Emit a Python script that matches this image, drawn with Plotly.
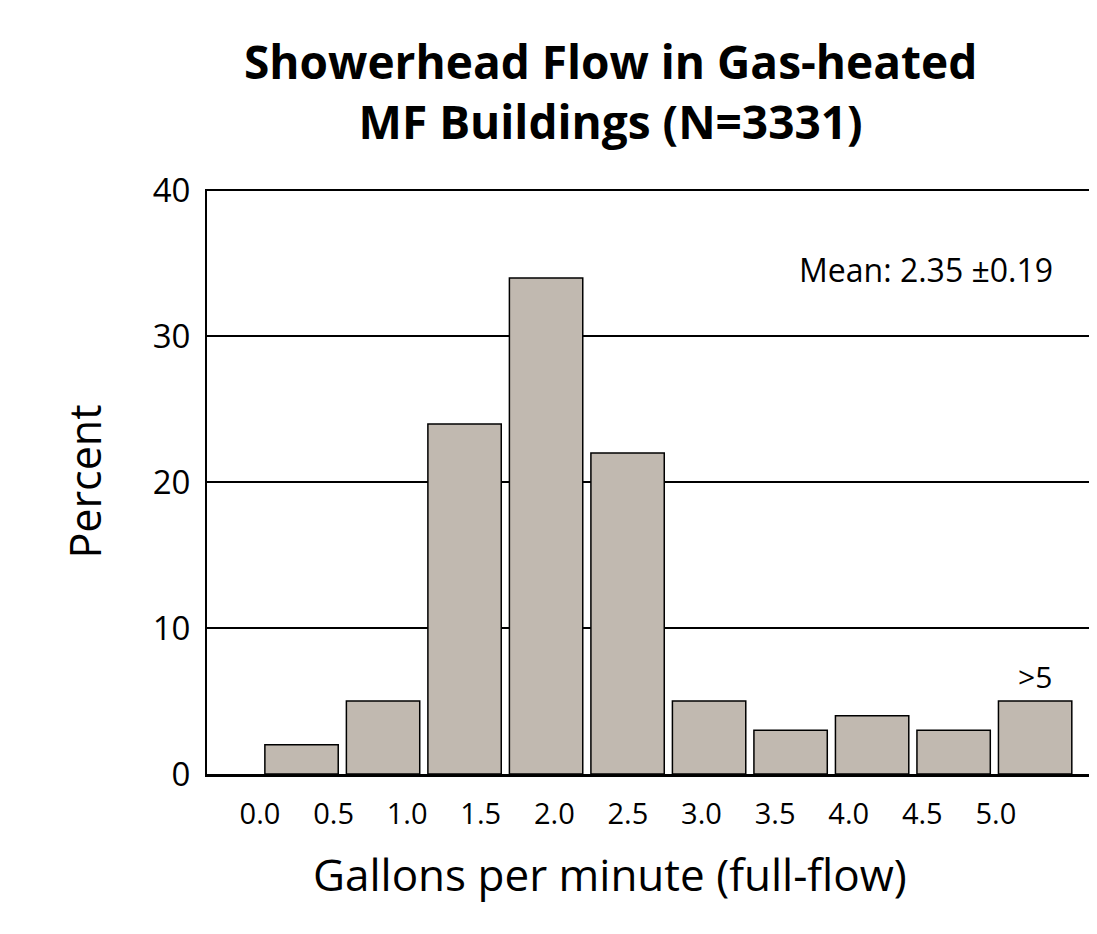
import plotly.graph_objects as go

# histogram bins (percent of showerheads)
bins = ["0.0-0.5", "0.5-1.0", "1.0-1.5", "1.5-2.0", "2.0-2.5",
        "2.5-3.0", "3.0-3.5", "3.5-4.0", "4.0-4.5", ">5"]
percent = [2, 5, 24, 34, 22, 5, 3, 4, 3, 5]
tick_labels = ["0.0", "0.5", "1.0", "1.5", "2.0", "2.5",
               "3.0", "3.5", "4.0", "4.5", "5.0"]
y_ticks = [0, 10, 20, 30, 40]

FONT = "Open Sans"
BAR_COLOR = "#c1b9b0"

fig = go.Figure()
fig.add_trace(go.Bar(
    x=bins, y=percent, width=0.9,
    marker=dict(color=BAR_COLOR, line=dict(color="black", width=1.5)),
    hoverinfo="y", showlegend=False,
))
# invisible trace to carry the (offset) tick labels
fig.add_trace(go.Scatter(
    x=tick_labels, y=[0] * len(tick_labels), xaxis="x2",
    mode="markers", marker=dict(opacity=0), hoverinfo="skip", showlegend=False,
))

fig.update_layout(
    width=1097, height=934,
    paper_bgcolor="white", plot_bgcolor="white",
    # page body adds ~8px offset, so margins are shifted to compensate
    margin=dict(l=199, r=12, t=181, b=168),
    font=dict(family=FONT, color="black"),
    xaxis=dict(
        type="category", range=[-1.16, 9.71], automargin=False,
        showticklabels=False, showgrid=False, zeroline=False,
        showline=True, linecolor="black", linewidth=3,
    ),
    xaxis2=dict(
        type="category", overlaying="x", side="bottom", anchor="y",
        range=[-0.72, 11.32], automargin=False, showgrid=False,
        showline=False, zeroline=False, tickfont=dict(size=29),
        ticklabelstandoff=20,
    ),
    yaxis=dict(
        # a hair above 40 so the top gridline is still drawn
        range=[0, 40.1], tickvals=y_ticks, tickfont=dict(size=33),
        automargin=False, showgrid=True, gridcolor="black", gridwidth=2,
        zeroline=False, showline=True, linecolor="black", linewidth=2,
        ticklabelstandoff=8,
    ),
    annotations=[
        dict(text="<b>Showerhead Flow in Gas-heated<br>MF Buildings (N=3331)</b>",
             xref="paper", yref="paper", x=0.455, y=1.167,
             xanchor="center", yanchor="middle", showarrow=False,
             font=dict(size=46)),
        dict(text="Percent", xref="paper", yref="paper", x=-0.1377, y=0.5,
             textangle=-90, xanchor="center", yanchor="middle",
             showarrow=False, font=dict(size=43)),
        dict(text="Gallons per minute (full-flow)", xref="paper", yref="paper",
             x=0.455, y=-0.171, xanchor="center", yanchor="middle",
             showarrow=False, font=dict(size=44)),
        dict(text="Mean: 2.35 ±0.19", xref="paper", yref="paper",
             x=0.957, y=0.863, xanchor="right", yanchor="middle",
             showarrow=False, font=dict(size=32)),
        dict(text=">5", x=bins[-1], y=percent[-1], yanchor="bottom",
             yshift=2, showarrow=False, font=dict(size=30)),
    ],
)

fig.write_html("out.html")
